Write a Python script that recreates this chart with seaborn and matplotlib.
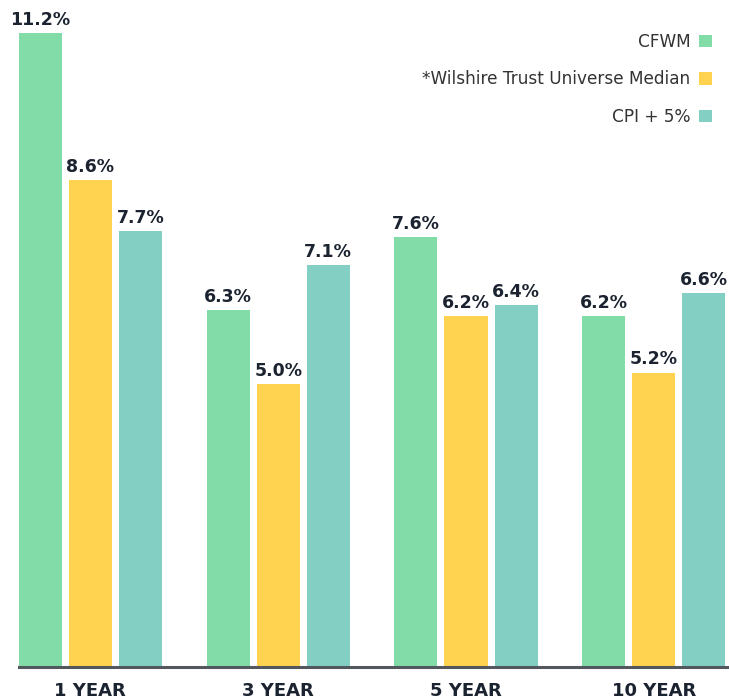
import matplotlib
matplotlib.use("Agg")
import matplotlib.pyplot as plt
import seaborn as sns
import pandas as pd
from matplotlib.patches import Patch

# Data
periods = ["1 YEAR", "3 YEAR", "5 YEAR", "10 YEAR"]
series = ["CFWM", "*Wilshire Trust Universe Median", "CPI + 5%"]
cfwm = [11.2, 6.3, 7.6, 6.2]
wilshire = [8.6, 5.0, 6.2, 5.2]
cpi_plus5 = [7.7, 7.1, 6.4, 6.6]
colors = ["#82dca8", "#ffd34f", "#84cfc4"]

rows = []
for name, vals in zip(series, [cfwm, wilshire, cpi_plus5]):
    for p, v in zip(periods, vals):
        rows.append({"period": p, "series": name, "value": v})
df = pd.DataFrame(rows)

sns.set_style("white")
plt.rcParams["font.family"] = ["DejaVu Sans"]

fig = plt.figure(figsize=(7.29, 7.00), dpi=100)
ax = fig.add_axes([0.026, 0.047, 0.974, 0.953])

sns.barplot(data=df, x="period", y="value", hue="series", order=periods,
            hue_order=series, palette=colors, saturation=1, width=0.8,
            gap=0.14, legend=False, linewidth=0, ax=ax)

for cont in ax.containers:
    ax.bar_label(cont, fmt="%.1f%%", padding=3, fontsize=12.5,
                 fontweight="bold", color="#1b2230")

ax.set_xlim(-0.38, 3.40)
ax.set_ylim(0, 11.78)
ax.set_xlabel("")
ax.set_ylabel("")
ax.set_yticks([])
for s in ["top", "right", "left"]:
    ax.spines[s].set_visible(False)
ax.spines["bottom"].set_color("#53585e")
ax.spines["bottom"].set_linewidth(2.2)
ax.tick_params(axis="x", length=0, pad=11)
for lbl in ax.get_xticklabels():
    lbl.set_fontsize(13)
    lbl.set_fontweight("bold")
    lbl.set_color("#1b2230")

handles = [Patch(facecolor=c, edgecolor="none") for c in colors]
leg = fig.legend(handles, series, loc="upper right",
                 bbox_to_anchor=(0.997, 0.975), frameon=False,
                 markerfirst=False, fontsize=12.2, handlelength=0.75,
                 handleheight=0.75, handletextpad=0.5, labelspacing=1.15,
                 alignment="right")
for t in leg.get_texts():
    t.set_color("#333333")

fig.savefig("out.png", dpi=100)
